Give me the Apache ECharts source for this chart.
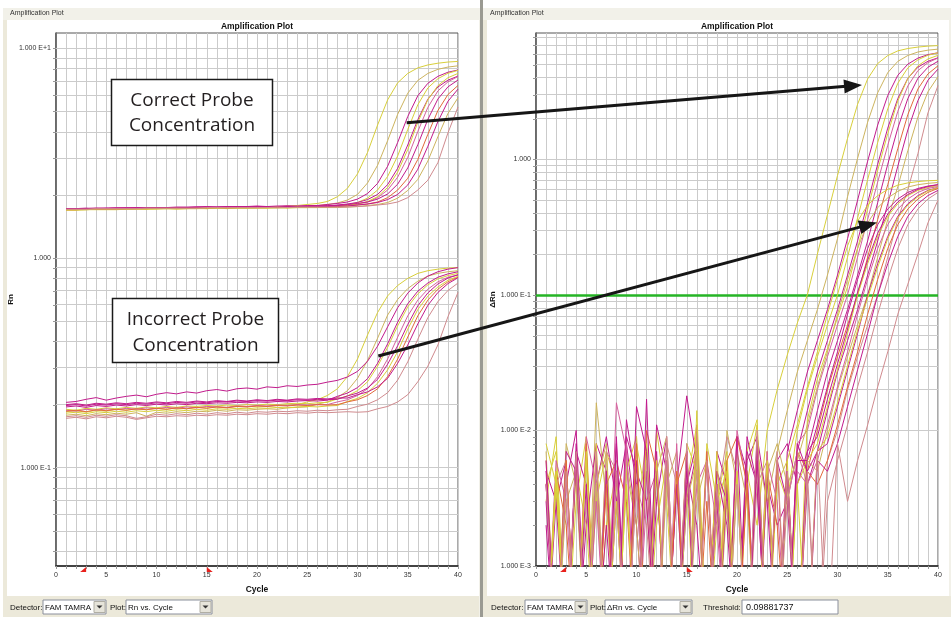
<!DOCTYPE html>
<html><head><meta charset="utf-8">
<script src="https://cdn.jsdelivr.net/npm/echarts@6.0.0/dist/echarts.min.js"></script>
<style>html,body{margin:0;padding:0;background:#fff;}#c{width:951px;height:617px;}</style>
</head><body><div id="c"></div>
<script>
const cycles = [1,2,3,4,5,6,7,8,9,10,11,12,13,14,15,16,17,18,19,20,21,22,23,24,25,26,27,28,29,30,31,32,33,34,35,36,37,38,39,40];
const z = 0.0002; // below the lower edge of the ΔRn axis (clipped)

// ---- Left panel: Rn, correct probe concentration (upper group)
const rU1 = [1.70,1.70,1.71,1.71,1.71,1.72,1.71,1.72,1.72,1.73,1.72,1.73,1.73,1.74,1.73,1.74,1.74,1.75,1.74,1.75,1.75,1.75,1.77,1.78,1.80,1.82,1.86,1.96,2.15,2.52,3.19,4.31,5.68,6.85,7.59,8.07,8.33,8.49,8.60,8.66];
const rU2 = [1.71,1.71,1.72,1.71,1.72,1.72,1.72,1.73,1.72,1.73,1.73,1.73,1.74,1.73,1.74,1.74,1.74,1.75,1.74,1.75,1.75,1.75,1.75,1.76,1.76,1.78,1.80,1.83,1.89,2.01,2.28,2.77,3.63,4.85,6.11,7.03,7.59,7.94,8.14,8.25];
const rU3 = [1.72,1.72,1.73,1.72,1.73,1.73,1.74,1.73,1.74,1.74,1.74,1.75,1.75,1.75,1.76,1.75,1.76,1.76,1.76,1.77,1.76,1.77,1.77,1.77,1.78,1.78,1.80,1.82,1.85,1.91,2.03,2.27,2.74,3.56,4.73,5.94,6.81,7.35,7.69,7.88];
const rU4 = [1.70,1.70,1.70,1.71,1.71,1.71,1.71,1.72,1.71,1.72,1.72,1.72,1.72,1.73,1.72,1.73,1.73,1.73,1.73,1.74,1.73,1.74,1.74,1.74,1.74,1.75,1.76,1.78,1.80,1.84,1.93,2.11,2.45,3.07,4.10,5.38,6.47,7.16,7.60,7.85];
const rU5 = [1.71,1.71,1.72,1.72,1.72,1.73,1.72,1.73,1.73,1.73,1.74,1.74,1.74,1.74,1.75,1.74,1.75,1.75,1.75,1.75,1.76,1.75,1.76,1.76,1.76,1.77,1.77,1.79,1.81,1.84,1.90,2.01,2.24,2.68,3.46,4.57,5.72,6.54,7.05,7.37];
const rU6 = [1.72,1.72,1.72,1.73,1.72,1.73,1.73,1.73,1.73,1.73,1.74,1.73,1.74,1.74,1.74,1.74,1.74,1.75,1.74,1.75,1.75,1.75,1.75,1.75,1.75,1.75,1.76,1.77,1.79,1.81,1.85,1.94,2.11,2.43,3.02,4.01,5.23,6.26,6.92,7.34];
const rU7 = [1.69,1.69,1.70,1.70,1.70,1.70,1.71,1.71,1.71,1.71,1.72,1.71,1.72,1.72,1.72,1.73,1.72,1.73,1.73,1.73,1.73,1.74,1.73,1.74,1.74,1.74,1.75,1.76,1.78,1.81,1.86,1.96,2.17,2.57,3.29,4.44,5.69,6.64,7.24,7.59];
const rU8 = [1.71,1.71,1.72,1.72,1.72,1.73,1.73,1.73,1.73,1.74,1.74,1.74,1.74,1.75,1.75,1.75,1.75,1.76,1.75,1.76,1.76,1.76,1.77,1.76,1.77,1.77,1.78,1.78,1.80,1.82,1.85,1.91,2.02,2.25,2.69,3.47,4.58,5.73,6.55,7.06];
const rU9 = [1.70,1.70,1.71,1.71,1.71,1.71,1.72,1.72,1.72,1.73,1.74,1.74,1.73,1.73,1.73,1.74,1.73,1.74,1.74,1.74,1.74,1.75,1.74,1.75,1.75,1.75,1.75,1.76,1.77,1.79,1.81,1.85,1.94,2.11,2.40,2.95,3.89,5.05,6.02,6.65];
const rU10 = [1.72,1.72,1.72,1.73,1.73,1.73,1.73,1.74,1.73,1.74,1.74,1.74,1.74,1.75,1.74,1.75,1.75,1.75,1.75,1.75,1.76,1.75,1.76,1.76,1.76,1.76,1.76,1.77,1.77,1.79,1.81,1.84,1.90,2.01,2.23,2.65,3.41,4.47,5.59,6.39];
const rU11 = [1.70,1.70,1.70,1.71,1.71,1.71,1.71,1.71,1.72,1.72,1.72,1.72,1.72,1.72,1.73,1.73,1.73,1.73,1.73,1.73,1.74,1.73,1.74,1.74,1.74,1.74,1.74,1.74,1.75,1.76,1.78,1.80,1.84,1.93,2.10,2.37,2.90,3.79,4.89,5.81];
const rU12 = [1.71,1.71,1.71,1.72,1.72,1.72,1.72,1.72,1.73,1.73,1.73,1.73,1.73,1.73,1.74,1.74,1.74,1.74,1.74,1.74,1.74,1.75,1.74,1.75,1.75,1.75,1.75,1.75,1.75,1.76,1.77,1.79,1.81,1.85,1.94,2.11,2.35,2.85,3.95,5.25];

// ---- Left panel: Rn, incorrect probe concentration (lower group)
const rL1 = [0.185,0.187,0.184,0.188,0.186,0.19,0.188,0.191,0.189,0.192,0.19,0.193,0.191,0.194,0.193,0.195,0.194,0.196,0.195,0.197,0.196,0.198,0.199,0.20,0.206,0.211,0.221,0.238,0.272,0.33,0.43,0.55,0.66,0.74,0.80,0.845,0.87,0.885,0.895,0.90];
const rL2 = [0.178,0.18,0.177,0.181,0.179,0.182,0.18,0.183,0.176,0.184,0.182,0.185,0.183,0.186,0.185,0.188,0.186,0.189,0.188,0.19,0.191,0.19,0.193,0.194,0.195,0.201,0.206,0.216,0.233,0.267,0.325,0.415,0.535,0.635,0.715,0.775,0.82,0.845,0.86,0.87];
const rL3 = [0.205,0.207,0.212,0.216,0.21,0.215,0.219,0.222,0.218,0.224,0.228,0.225,0.23,0.227,0.233,0.236,0.232,0.238,0.24,0.237,0.243,0.241,0.246,0.244,0.248,0.25,0.256,0.261,0.271,0.288,0.322,0.38,0.47,0.58,0.68,0.76,0.82,0.86,0.885,0.90];
const rL4 = [0.19,0.188,0.192,0.19,0.193,0.191,0.194,0.192,0.195,0.193,0.196,0.194,0.197,0.196,0.198,0.197,0.199,0.198,0.2,0.199,0.201,0.2,0.202,0.203,0.202,0.204,0.205,0.213,0.22,0.233,0.257,0.305,0.375,0.475,0.585,0.675,0.745,0.795,0.825,0.845];
const rL5 = [0.195,0.197,0.194,0.198,0.196,0.199,0.197,0.2,0.198,0.201,0.199,0.202,0.2,0.203,0.202,0.204,0.203,0.205,0.204,0.206,0.205,0.207,0.206,0.208,0.209,0.208,0.21,0.219,0.227,0.241,0.266,0.315,0.39,0.495,0.605,0.695,0.76,0.81,0.84,0.86];
const rL6 = [0.188,0.186,0.19,0.188,0.191,0.189,0.192,0.19,0.193,0.191,0.194,0.192,0.195,0.193,0.196,0.195,0.194,0.197,0.196,0.198,0.197,0.199,0.198,0.2,0.199,0.2,0.2,0.206,0.211,0.221,0.238,0.272,0.33,0.42,0.53,0.63,0.71,0.77,0.81,0.83];
const rL7 = [0.198,0.2,0.197,0.201,0.199,0.202,0.2,0.203,0.201,0.204,0.202,0.205,0.203,0.206,0.204,0.207,0.206,0.208,0.207,0.209,0.208,0.21,0.209,0.211,0.21,0.212,0.211,0.212,0.22,0.227,0.24,0.264,0.312,0.382,0.482,0.592,0.682,0.752,0.802,0.832];
const rL8 = [0.182,0.184,0.181,0.185,0.183,0.186,0.184,0.187,0.185,0.188,0.186,0.189,0.187,0.19,0.188,0.191,0.19,0.192,0.191,0.193,0.192,0.194,0.193,0.195,0.196,0.195,0.197,0.198,0.207,0.214,0.228,0.253,0.293,0.358,0.458,0.568,0.658,0.728,0.783,0.818];
const rL9 = [0.186,0.188,0.185,0.189,0.187,0.19,0.188,0.191,0.189,0.192,0.19,0.193,0.191,0.194,0.192,0.195,0.193,0.196,0.195,0.197,0.196,0.198,0.197,0.199,0.198,0.2,0.199,0.2,0.206,0.211,0.221,0.238,0.272,0.33,0.42,0.53,0.63,0.71,0.77,0.81];
const rL10 = [0.2,0.202,0.199,0.203,0.201,0.204,0.202,0.205,0.203,0.206,0.204,0.207,0.205,0.208,0.206,0.209,0.207,0.21,0.208,0.211,0.209,0.212,0.21,0.213,0.212,0.214,0.213,0.215,0.215,0.223,0.23,0.243,0.267,0.315,0.385,0.485,0.595,0.685,0.755,0.805];
const rL11 = [0.175,0.177,0.174,0.178,0.176,0.179,0.177,0.172,0.175,0.18,0.178,0.181,0.179,0.182,0.18,0.183,0.181,0.184,0.182,0.185,0.184,0.186,0.185,0.187,0.186,0.188,0.187,0.189,0.19,0.196,0.201,0.211,0.228,0.262,0.32,0.41,0.52,0.62,0.70,0.76];
const rL12 = [0.172,0.174,0.171,0.175,0.173,0.176,0.174,0.17,0.173,0.176,0.175,0.177,0.176,0.178,0.177,0.179,0.178,0.18,0.179,0.181,0.18,0.182,0.181,0.183,0.182,0.184,0.183,0.184,0.185,0.184,0.185,0.191,0.196,0.206,0.223,0.257,0.305,0.385,0.525,0.685];

// ---- Right panel: ΔRn, upper group
const dU1 = [0.004,0.007,z,0.003,0.009,z,0.002,0.005,z,0.008,0.003,z,0.006,z,0.004,0.011,z,0.003,0.007,z,0.005,0.002,0.010,0.020,0.036,0.062,0.10,0.20,0.39,0.76,1.43,2.55,3.92,5.09,5.83,6.31,6.57,6.73,6.84,6.9];
const dU2 = [0.006,z,0.008,0.004,z,0.016,0.003,z,0.005,0.002,0.009,z,0.004,0.007,z,0.003,0.006,z,0.010,0.004,z,0.007,0.003,0.007,0.014,0.027,0.046,0.078,0.14,0.26,0.53,1.02,1.88,3.1,4.36,5.28,5.84,6.19,6.39,6.5];
const dU3 = [z,0.003,0.006,z,0.002,0.008,0.005,z,0.012,0.004,z,0.003,0.009,z,0.005,0.002,z,0.007,0.004,z,0.006,0.009,0.003,z,0.007,0.014,0.027,0.046,0.078,0.14,0.26,0.50,0.97,1.79,2.96,4.17,5.04,5.58,5.92,6.11];
const dU4 = [0.003,0.009,z,0.005,0.002,z,0.007,0.004,z,0.006,z,0.010,0.003,z,0.008,0.005,z,0.002,0.006,z,0.004,0.011,z,0.005,0.003,0.010,0.020,0.035,0.060,0.10,0.19,0.37,0.71,1.33,2.36,3.64,4.73,5.42,5.86,6.11];
const dU5 = [0.005,z,0.004,0.010,z,0.006,z,0.003,0.008,0.002,z,0.007,z,0.004,0.018,0.006,z,0.003,z,0.009,0.005,z,0.004,0.002,0.003,0.007,0.014,0.027,0.046,0.078,0.14,0.25,0.48,0.92,1.70,2.81,3.96,4.78,5.29,5.61];
const dU6 = [z,0.006,0.003,z,0.009,0.004,z,0.016,0.007,z,0.003,0.005,z,0.008,z,0.004,0.006,0.002,z,0.010,0.004,z,0.006,0.003,z,0.008,0.010,0.020,0.035,0.060,0.10,0.19,0.36,0.68,1.27,2.26,3.48,4.51,5.17,5.59];
const dU7 = [0.008,0.004,z,0.006,z,0.003,0.007,z,0.005,0.009,z,0.002,0.006,z,0.004,z,0.008,0.003,0.005,z,0.007,0.012,z,0.004,0.006,z,0.012,0.024,0.040,0.068,0.115,0.22,0.43,0.83,1.55,2.7,3.95,4.9,5.5,5.85];
const dU8 = [0.002,z,0.007,0.005,z,0.004,0.009,0.003,z,0.006,z,0.011,0.005,z,0.003,0.007,z,0.005,0.002,z,0.009,0.004,z,0.006,0.008,0.004,0.007,0.014,0.027,0.046,0.078,0.14,0.25,0.48,0.92,1.70,2.81,3.96,4.78,5.29];
const dU9 = [z,0.005,0.002,z,0.008,z,0.004,0.006,0.003,z,0.010,0.005,z,0.004,0.007,z,0.003,z,0.006,0.009,0.004,z,0.005,0.002,z,0.007,0.005,0.010,0.020,0.035,0.060,0.10,0.19,0.36,0.65,1.2,2.14,3.3,4.27,4.9];
const dU10 = [0.005,0.003,z,0.007,0.004,z,0.002,z,0.009,0.005,0.003,z,0.006,z,0.004,0.008,z,0.005,0.003,z,0.007,0.004,z,0.006,0.003,z,0.004,0.007,0.014,0.027,0.046,0.078,0.14,0.25,0.47,0.89,1.65,2.71,3.83,4.63];
const dU11 = [0.007,z,0.003,0.005,z,0.004,0.008,z,0.006,0.002,z,0.005,0.009,z,0.003,0.006,z,0.004,z,0.007,0.003,z,0.005,0.008,0.004,z,0.006,0.005,0.010,0.020,0.035,0.060,0.10,0.19,0.36,0.63,1.16,2.05,3.15,4.07];
const dU12 = [z,0.004,0.006,z,0.003,z,0.007,0.005,z,0.004,0.002,z,0.008,0.004,z,0.005,z,0.003,0.009,0.005,z,0.004,0.006,z,0.003,0.007,0.004,z,0.006,0.010,0.020,0.035,0.060,0.10,0.19,0.36,0.6,1.1,2.2,3.5];

// ---- Right panel: ΔRn, lower group
const dL1 = [z,0.004,z,z,0.006,z,z,0.003,z,z,0.008,z,z,0.005,z,z,z,0.007,z,0.004,z,z,0.005,z,0.006,0.011,0.021,0.038,0.072,0.13,0.23,0.35,0.46,0.54,0.60,0.645,0.67,0.685,0.695,0.70];
const dL2 = [z,z,0.006,z,z,0.004,z,z,z,0.009,z,z,0.005,z,z,0.007,z,z,0.003,z,z,0.006,z,z,0.004,0.006,0.011,0.021,0.038,0.072,0.13,0.22,0.34,0.44,0.52,0.58,0.625,0.65,0.665,0.675];
const dL3 = [0.003,z,z,0.008,z,z,0.005,z,z,0.015,0.007,z,z,0.004,z,z,0.006,z,z,0.009,z,z,0.005,z,z,0.006,0.006,0.011,0.021,0.038,0.072,0.13,0.22,0.33,0.43,0.51,0.57,0.61,0.635,0.65];
const dL4 = [z,0.005,z,z,z,0.008,z,z,0.004,z,z,z,0.006,z,z,0.009,z,z,z,0.005,z,z,0.007,z,z,0.004,0.006,0.008,0.015,0.028,0.052,0.10,0.17,0.27,0.38,0.47,0.54,0.59,0.62,0.64];
const dL5 = [0.004,z,z,0.007,z,z,z,0.005,z,z,0.017,z,z,z,0.006,z,z,0.004,z,z,z,0.008,z,z,0.005,z,0.007,0.009,0.017,0.031,0.056,0.105,0.18,0.285,0.395,0.485,0.55,0.60,0.63,0.65];
const dL6 = [z,z,0.005,z,z,0.003,z,z,0.008,z,z,z,0.006,z,z,0.011,z,z,0.004,z,z,z,0.007,z,z,0.005,0.004,0.006,0.011,0.021,0.038,0.072,0.13,0.22,0.33,0.43,0.51,0.57,0.61,0.63];
const dL7 = [0.006,z,z,z,0.004,z,z,0.009,z,z,z,0.005,z,z,0.007,z,z,z,0.004,z,z,0.006,z,z,z,0.008,0.005,0.007,0.008,0.015,0.028,0.052,0.10,0.17,0.27,0.38,0.47,0.54,0.59,0.62];
const dL8 = [z,0.005,z,z,0.007,z,z,z,0.004,z,z,0.006,z,z,z,0.014,z,z,0.005,z,z,z,0.006,z,z,0.004,z,0.007,0.009,0.016,0.030,0.055,0.095,0.16,0.26,0.37,0.46,0.53,0.585,0.62];
const dL9 = [z,z,0.006,z,z,z,0.004,z,z,0.008,z,z,z,0.005,z,z,0.007,z,z,z,0.004,z,z,0.006,z,z,0.005,0.004,0.006,0.011,0.021,0.038,0.072,0.13,0.22,0.33,0.43,0.51,0.57,0.61];
const dL10 = [0.004,z,z,0.006,z,z,z,0.008,z,z,0.005,z,z,z,0.007,z,z,0.004,z,z,z,0.009,z,z,0.005,z,z,0.006,0.005,0.008,0.015,0.028,0.052,0.10,0.17,0.27,0.38,0.47,0.54,0.59];
const dL11 = [z,z,0.005,z,z,0.007,z,z,z,0.004,z,z,0.009,z,z,z,0.006,z,z,0.004,z,z,z,0.007,z,z,0.005,z,0.003,0.006,0.011,0.021,0.038,0.072,0.13,0.22,0.33,0.43,0.51,0.57];
const dL12 = [0.004,z,z,0.007,z,z,z,0.005,z,z,0.006,z,z,z,0.008,z,z,0.004,z,z,z,0.010,z,z,0.005,z,z,0.007,z,0.008,0.003,0.006,0.011,0.021,0.038,0.072,0.12,0.20,0.34,0.50];

const curveColorKeys = ['Y','K','M','Y','M','P','Y','M','O','M','K','R', 'Y','K','M','Y','M','P','M','Y','O','M','R','R'];
const leftSets = [rU1,rU2,rU3,rU4,rU5,rU6,rU7,rU8,rU9,rU10,rU11,rU12,rL1,rL2,rL3,rL4,rL5,rL6,rL7,rL8,rL9,rL10,rL11,rL12];
const rightSets = [dU1,dU2,dU3,dU4,dU5,dU6,dU7,dU8,dU9,dU10,dU11,dU12,dL1,dL2,dL3,dL4,dL5,dL6,dL7,dL8,dL9,dL10,dL11,dL12];

const threshold = 0.09881737;
const baselineMarks = [3, 15];
const xTickLabels = [0,5,10,15,20,25,30,35,40];
const expLabels = {'1':'1.000 E+1','0':'1.000','-1':'1.000 E-1','-2':'1.000 E-2','-3':'1.000 E-3'};
const leftGridValues = [0.04,0.05,0.06,0.07,0.08,0.09,0.1,0.2,0.3,0.4,0.5,0.6,0.7,0.8,0.9,1,2,3,4,5,6,7,8,9,10];
const rightGridValues = [0.001,0.002,0.003,0.004,0.005,0.006,0.007,0.008,0.009,0.01,0.02,0.03,0.04,0.05,0.06,0.07,0.08,0.09,0.1,0.2,0.3,0.4,0.5,0.6,0.7,0.8,0.9,1,2,3,4,5,6,7,8];
const leftRange = [0.034, 11.83];
const rightRange = [0.001, 8.55];

const COL = {Y:'#D8CF3A', K:'#CDB45E', M:'#C21A8C', P:'#D6609E', O:'#E2683A', R:'#D08A8E'};
const FONT = '"Liberation Sans", Arial, sans-serif';
const GRIDC = '#CBCBCB';

const chart = echarts.init(document.getElementById('c'), null, {renderer:'canvas'});

function yLabel(v){
  const e = Math.log10(v), r = Math.round(e);
  if (Math.abs(e - r) > 1e-6) return '';
  return expLabels[String(r)] || '';
}
function xAxisCfg(gi){
  return {type:'value', gridIndex:gi, min:0, max:40, interval:1,
    axisLine:{show:true, onZero:false, lineStyle:{color:'#222', width:1.5}},
    axisTick:{show:true, length:3, lineStyle:{color:'#999'}},
    axisLabel:{fontSize:7, color:'#333', margin:6, fontFamily:FONT,
      formatter: v => xTickLabels.indexOf(v) >= 0 ? String(v) : ''},
    splitLine:{show:true, lineStyle:{color:GRIDC, width:1}},
    name:'Cycle', nameLocation:'middle', nameGap:19,
    nameTextStyle:{fontSize:8.5, fontWeight:'bold', color:'#111', fontFamily:FONT}};
}
function yAxisCfg(gi, range, name, gap){
  return {type:'log', logBase:10, gridIndex:gi, min:range[0], max:range[1],
    axisLine:{show:true, lineStyle:{color:'#555', width:1.5}},
    axisTick:{show:false},
    axisLabel:{fontSize:7, color:'#333', margin:5, fontFamily:FONT, formatter: yLabel},
    splitLine:{show:false},
    name:name, nameLocation:'middle', nameGap:gap, nameRotate:90,
    nameTextStyle:{fontSize:8, fontWeight:'bold', color:'#111', fontFamily:FONT}};
}
function gridLineSeries(gi, values){
  return {type:'line', xAxisIndex:gi, yAxisIndex:gi, data:[], silent:true, z:1, animation:false,
    markLine:{silent:true, symbol:['none','none'], animation:false, label:{show:false},
      lineStyle:{color:GRIDC, width:1, type:'solid'}, emphasis:{disabled:true},
      data: values.map(v => ({yAxis:v}))}};
}
function curve(arr, gi, color){
  return {type:'line', xAxisIndex:gi, yAxisIndex:gi, data: cycles.map((c,i)=>[c, arr[i]]),
    showSymbol:false, symbol:'none', silent:true, animation:false, clip:true, z:5,
    lineStyle:{width:1, color:color}, itemStyle:{color:color}};
}

const series = [gridLineSeries(0, leftGridValues), gridLineSeries(1, rightGridValues)];
leftSets.forEach((a,i)=> series.push(curve(a, 0, COL[curveColorKeys[i]])));
rightSets.forEach((a,i)=> series.push(curve(a, 1, COL[curveColorKeys[i]])));
series.push({type:'line', xAxisIndex:1, yAxisIndex:1, data:[], silent:true, z:8, animation:false,
  markLine:{silent:true, symbol:['none','none'], animation:false, label:{show:false},
    lineStyle:{color:'#25B425', width:2.5, type:'solid'}, data:[{yAxis:threshold}]}});

// ---- decoration (panels, texts, controls, arrows)
const beige = '#ECE9DA', band = '#F2F1E9';
const g = [];
g.push({type:'rect', shape:{x:3,y:8,width:477,height:609}, style:{fill:band}, z:-100});
g.push({type:'rect', shape:{x:3,y:20,width:4,height:597}, style:{fill:beige}, z:-99});
g.push({type:'rect', shape:{x:7,y:20,width:472,height:576}, style:{fill:'#FFFFFF'}, z:-98});
g.push({type:'rect', shape:{x:480,y:0,width:3,height:617}, style:{fill:'#9A9A92'}, z:-97});
g.push({type:'rect', shape:{x:483,y:8,width:468,height:609}, style:{fill:band}, z:-100});
g.push({type:'rect', shape:{x:483,y:20,width:4,height:597}, style:{fill:beige}, z:-99});
g.push({type:'rect', shape:{x:487,y:20,width:462,height:576}, style:{fill:'#FFFFFF'}, z:-98});
g.push({type:'rect', shape:{x:7,y:596,width:472,height:21}, style:{fill:beige}, z:-98});
g.push({type:'rect', shape:{x:487,y:596,width:464,height:21}, style:{fill:beige}, z:-98});
function txt(x,y,s,size,opts){
  opts = opts || {};
  return {type:'text', x:x, y:y, z:opts.z||50, style:{text:s, fontSize:size, fontFamily:opts.font||FONT,
    fontWeight:opts.bold?'bold':'normal', fill:opts.color||'#222', align:opts.align||'left', verticalAlign:'middle'}};
}
g.push(txt(10,13,'Amplification Plot',7,{color:'#333'}));
g.push(txt(490,13,'Amplification Plot',7,{color:'#333'}));
g.push(txt(257,27,'Amplification Plot',8.5,{bold:true,align:'center',color:'#111'}));
g.push(txt(737,27,'Amplification Plot',8.5,{bold:true,align:'center',color:'#111'}));

function combo(x,w,label){
  const out = [];
  out.push({type:'rect', shape:{x:x,y:600,width:w,height:14}, style:{fill:'#FFFFFF', stroke:'#8A8F9C', lineWidth:1}, z:40});
  out.push(txt(x+2,607.5,label,8,{color:'#111'}));
  out.push({type:'rect', shape:{x:x+w-12,y:601.5,width:11,height:11}, style:{fill:'#E6E4DA', stroke:'#B0AEA4', lineWidth:1}, z:41});
  const cx = x+w-6.5;
  out.push({type:'polygon', shape:{points:[[cx-3,605.5],[cx+3,605.5],[cx,608.5]]}, style:{fill:'#333'}, z:42});
  return out;
}
g.push(txt(10,607.5,'Detector:',8,{color:'#111'}));
combo(43,63,'FAM TAMRA').forEach(e=>g.push(e));
g.push(txt(110,607.5,'Plot:',8,{color:'#111'}));
combo(126,86,'Rn vs. Cycle').forEach(e=>g.push(e));
g.push(txt(491,607.5,'Detector:',8,{color:'#111'}));
combo(525,62,'FAM TAMRA').forEach(e=>g.push(e));
g.push(txt(590,607.5,'Plot:',8,{color:'#111'}));
combo(605,87,'ΔRn vs. Cycle').forEach(e=>g.push(e));
g.push(txt(703,607.5,'Threshold:',8,{color:'#111'}));
g.push({type:'rect', shape:{x:742,y:600,width:96,height:14}, style:{fill:'#FFFFFF', stroke:'#8A8F9C', lineWidth:1}, z:40});
g.push(txt(746,607.5,'0.09881737',9,{color:'#111'}));

// annotation boxes
const BOXFONT = '"Open Sans", "Noto Sans", sans-serif';
g.push({type:'rect', shape:{x:111.5,y:79.5,width:161,height:66}, style:{fill:'#FFFFFF', stroke:'#1A1A1A', lineWidth:1.5}, z:60});
g.push(txt(192,101,'Correct Probe',19,{align:'center',font:BOXFONT,color:'#231F20',z:61}));
g.push(txt(192,126,'Concentration',19,{align:'center',font:BOXFONT,color:'#231F20',z:61}));
g.push({type:'rect', shape:{x:112.5,y:298.5,width:166,height:64}, style:{fill:'#FFFFFF', stroke:'#1A1A1A', lineWidth:1.5}, z:60});
g.push(txt(195.5,320,'Incorrect Probe',19,{align:'center',font:BOXFONT,color:'#231F20',z:61}));
g.push(txt(195.5,346,'Concentration',19,{align:'center',font:BOXFONT,color:'#231F20',z:61}));

function arrow(x1,y1,x2,y2){
  const dx=x2-x1, dy=y2-y1, L=Math.hypot(dx,dy), ux=dx/L, uy=dy/L, hl=18, hw=7;
  const bx=x2-ux*hl, by=y2-uy*hl;
  return [
    {type:'line', shape:{x1:x1,y1:y1,x2:bx+ux*2,y2:by+uy*2}, style:{stroke:'#161616', lineWidth:3}, z:70},
    {type:'polygon', shape:{points:[[x2,y2],[bx-uy*hw,by+ux*hw],[bx+uy*hw,by-ux*hw]]}, style:{fill:'#161616'}, z:71}
  ];
}
arrow(406.7,122.7,862,85).forEach(e=>g.push(e));
arrow(378.3,356,877,222.5).forEach(e=>g.push(e));

const option = {
  animation:false,
  backgroundColor:'#FFFFFF',
  grid:[
    {left:56, top:33, width:402, height:533, show:true, borderColor:'#555', borderWidth:1, backgroundColor:'transparent'},
    {left:536, top:33, width:402, height:533, show:true, borderColor:'#555', borderWidth:1, backgroundColor:'transparent'}
  ],
  xAxis:[xAxisCfg(0), xAxisCfg(1)],
  yAxis:[yAxisCfg(0, leftRange, 'Rn', 34), yAxisCfg(1, rightRange, 'ΔRn', 32)],
  series: series,
  graphic: g
};
chart.setOption(option);

// axis-side tick marks and baseline markers positioned through the scales
const extra = [];
[[0,leftGridValues,leftRange],[1,rightGridValues,rightRange]].forEach(([gi,vals,range])=>{
  vals.forEach(v=>{
    const p = chart.convertToPixel({gridIndex:gi}, [0, v]);
    extra.push({type:'line', shape:{x1:p[0]-3,y1:Math.round(p[1])+0.5,x2:p[0],y2:Math.round(p[1])+0.5}, style:{stroke:'#999',lineWidth:1}, z:30});
  });
  baselineMarks.forEach((c,j)=>{
    const p = chart.convertToPixel({gridIndex:gi}, [c, range[0]]);
    const x = p[0], y = p[1] + 1;
    const pts = j===0 ? [[x-6,y+5],[x,y+5],[x,y]] : [[x,y],[x,y+5],[x+6,y+5]];
    extra.push({type:'polygon', shape:{points:pts}, style:{fill:'#E8201C'}, z:35});
  });
});
chart.setOption({graphic: g.concat(extra)});
</script></body></html>
